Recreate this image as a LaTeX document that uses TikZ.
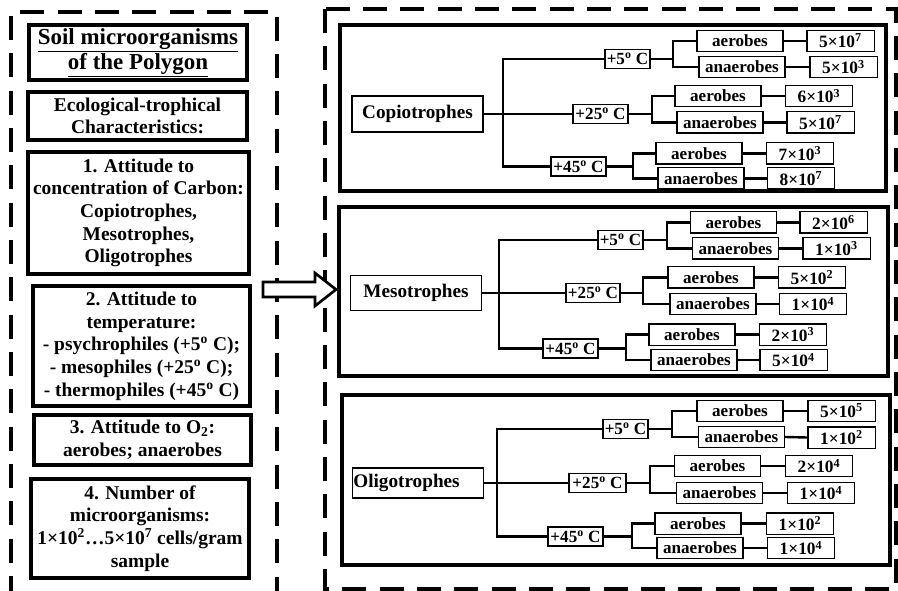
\documentclass[tikz,border=0pt]{standalone}
\usepackage{fontspec}
\setmainfont{Liberation Serif}

\tikzset{every picture/.style={line width=0.75pt}}
\tikzset{
  dashframe/.style={dash pattern=on 18pt off 10pt, line width=3pt},
  panel/.style={line width=3pt},
  infobox/.style={draw, line width=3pt, align=center, inner sep=0pt, font=\fontsize{14.6}{17}\selectfont\bfseries},
  groupbox/.style={draw, line width=1.2pt, inner sep=0pt, minimum width=98.5pt, font=\fontsize{14.4}{17}\selectfont\bfseries},
  tempbox/.style={draw, line width=1pt, inner sep=0pt, minimum height=14.25pt, font=\fontsize{12.8}{15}\selectfont\bfseries},
  oxbox/.style={draw, line width=1pt, inner sep=0pt, minimum width=64.5pt, minimum height=16pt, font=\fontsize{12.8}{15}\selectfont\bfseries},
  valbox/.style={draw, line width=1pt, inner sep=0pt, minimum width=50.5pt, minimum height=16pt, font=\fontsize{13}{15}\selectfont\bfseries},
  link/.style={line width=1.8pt},
}

\begin{document}
\begin{tikzpicture}[x=0.75pt,y=0.75pt,yscale=-1,xscale=1]
\useasboundingbox (0,0) rectangle (898,591);

%Dashed frames
\draw[dashframe] (11,600) -- (11,12) -- (277,12) -- (277,600);
\draw[dashframe] (325,9) rectangle (896,589);

% Text Node
\node[infobox, minimum width=163.5pt, minimum height=41.25pt, font=\fontsize{17.2}{18.75}\selectfont\bfseries] (title) at (138,52.5) {\underline{Soil microorganisms}\\\underline{of the Polygon}};
% Text Node
\node[infobox, minimum width=164.25pt, minimum height=36pt] (eco) at (137.5,116) {Ecological-trophical\\Characteristics:};
% Text Node
\node[infobox, minimum width=165.75pt, minimum height=91.5pt] (carbon) at (138.5,213) {1. Attitude to\\concentration of Carbon:\\Copiotrophes,\\Mesotrophes,\\Oligotrophes};
% Text Node
\node[infobox, minimum width=162.75pt, minimum height=90pt] (temp) at (141.5,346) {2. Attitude to\\temperature:\\- psychrophiles (+5\textsuperscript{o} C);\\- mesophiles (+25\textsuperscript{o} C);\\- thermophiles (+45\textsuperscript{o} C)};
% Text Node
\node[infobox, minimum width=162.75pt, minimum height=37.5pt] (oxy) at (142.5,440) {3. Attitude to O\textsubscript{2}:\\aerobes; anaerobes};
% Text Node
\node[infobox, minimum width=163.5pt, minimum height=74.25pt] (number) at (140,528.5) {4. Number of\\microorganisms:\\1×10\textsuperscript{2}…5×10\textsuperscript{7} cells/gram\\sample};

%Block arrow
\draw[line width=2pt, fill=white] (263,282) -- (315,282) -- (315,273) -- (336,289.5) -- (315,306) -- (315,297) -- (263,297) -- cycle;

%Panels
\draw[panel] (340,25) rectangle (886,191);
\draw[panel] (339,207) rectangle (888,376);
\draw[panel] (342,395) rectangle (890,565);

%%% Copiotrophes
\node[groupbox, minimum height=27pt] (copio) at (417.5,114) {Copiotrophes};
\node[tempbox, minimum width=33.75pt] (c5) at (627.5,59) {+5\textsuperscript{o} C};
\node[tempbox, minimum width=41.25pt] (c25) at (600.5,114) {+25\textsuperscript{o} C};
\node[tempbox, minimum width=41.25pt] (c45) at (578.5,166.5) {+45\textsuperscript{o} C};
\node[oxbox] (c5a) at (740,41) {aerobes};
\node[oxbox] (c5n) at (742,67) {anaerobes};
\node[valbox] (c5av) at (840.5,41) {5×10\textsuperscript{7}};
\node[valbox] (c5nv) at (843.5,67) {5×10\textsuperscript{3}};
\node[oxbox] (c25a) at (718,96) {aerobes};
\node[oxbox] (c25n) at (720,122.5) {anaerobes};
\node[valbox] (c25av) at (819,96) {6×10\textsuperscript{3}};
\node[valbox] (c25nv) at (820.5,122.5) {5×10\textsuperscript{7}};
\node[oxbox] (c45a) at (699,153.5) {aerobes};
\node[oxbox] (c45n) at (701,178.5) {anaerobes};
\node[valbox] (c45av) at (800,153.5) {7×10\textsuperscript{3}};
\node[valbox] (c45nv) at (801,178.5) {8×10\textsuperscript{7}};
%Straight Lines
\coordinate (cj) at (503,114);
\draw[link] (copio.east) -- (cj);
\draw[link] (c5.west) -| (cj) |- (c45.west);
\draw[link] (cj) -- (c25.west);
\coordinate (c5j) at (673,59);
\draw[link] (c5.east) -- (c5j);
\draw[link] (c5a.west) -| (c5j) |- (c5n.west);
\coordinate (c25j) at (652,114);
\draw[link] (c25.east) -- (c25j);
\draw[link] (c25a.west) -| (c25j) |- (c25n.west);
\coordinate (c45j) at (633,166.5);
\draw[link] (c45.east) -- (c45j);
\draw[link] (c45a.west) -| (c45j) |- (c45n.west);
\draw[link] (c5a.east) -- (c5av.west);
\draw[link] (c5n.east) -- (c5nv.west);
\draw[link] (c25a.east) -- (c25av.west);
\draw[link] (c25n.east) -- (c25nv.west);
\draw[link] (c45a.east) -- (c45av.west);
\draw[link] (c45n.east) -- (c45nv.west);

%%% Mesotrophes
\node[groupbox, minimum height=26.25pt] (meso) at (416,293) {Mesotrophes};
\node[tempbox, minimum width=33.75pt] (m5) at (620.5,240) {+5\textsuperscript{o} C};
\node[tempbox, minimum width=40.5pt] (m25) at (593,293) {+25\textsuperscript{o} C};
\node[tempbox, minimum width=41.25pt] (m45) at (570.5,348.5) {+45\textsuperscript{o} C};
\node[oxbox] (m5a) at (733.5,222.5) {aerobes};
\node[oxbox] (m5n) at (735.5,248.5) {anaerobes};
\node[valbox] (m5av) at (833.5,222.5) {2×10\textsuperscript{6}};
\node[valbox] (m5nv) at (836.5,248.5) {1×10\textsuperscript{3}};
\node[oxbox] (m25a) at (711,277.5) {aerobes};
\node[oxbox] (m25n) at (713,304) {anaerobes};
\node[valbox] (m25av) at (812,277.5) {5×10\textsuperscript{2}};
\node[valbox] (m25nv) at (813,304) {1×10\textsuperscript{4}};
\node[oxbox] (m45a) at (692,334.5) {aerobes};
\node[oxbox] (m45n) at (694,360) {anaerobes};
\node[valbox] (m45av) at (793,334.5) {2×10\textsuperscript{3}};
\node[valbox] (m45nv) at (793.5,360) {5×10\textsuperscript{4}};
%Straight Lines
\coordinate (mj) at (499,293);
\draw[link] (meso.east) -- (mj);
\draw[link] (m5.west) -| (mj) |- (m45.west);
\draw[link] (mj) -- (m25.west);
\coordinate (m5j) at (667,240);
\draw[link] (m5.east) -- (m5j);
\draw[link] (m5a.west) -| (m5j) |- (m5n.west);
\coordinate (m25j) at (643,293);
\draw[link] (m25.east) -- (m25j);
\draw[link] (m25a.west) -| (m25j) |- (m25n.west);
\coordinate (m45j) at (626,348.5);
\draw[link] (m45.east) -- (m45j);
\draw[link] (m45a.west) -| (m45j) |- (m45n.west);
\draw[link] (m5a.east) -- (m5av.west);
\draw[link] (m5n.east) -- (m5nv.west);
\draw[link] (m25a.east) -- (m25av.west);
\draw[link] (m25n.east) -- (m25nv.west);
\draw[link] (m45a.east) -- (m45av.west);
\draw[link] (m45n.east) -- (m45nv.west);

%%% Oligotrophes
\node[groupbox, minimum height=22.5pt, text width=97pt, align=left] (oligo) at (418,483) {Oligotrophes};
\node[tempbox, minimum width=33.75pt] (o5) at (625.5,429) {+5\textsuperscript{o} C};
\node[tempbox, minimum width=42.75pt] (o25) at (597.5,483) {+25\textsuperscript{o} C};
\node[tempbox, minimum width=41.25pt] (o45) at (575.5,536.5) {+45\textsuperscript{o} C};
\node[oxbox] (o5a) at (740,411) {aerobes};
\node[oxbox] (o5n) at (741.5,437) {anaerobes};
\node[valbox] (o5av) at (841.5,411) {5×10\textsuperscript{5}};
\node[valbox] (o5nv) at (841.5,437.5) {1×10\textsuperscript{2}};
\node[oxbox] (o25a) at (717.5,466) {aerobes};
\node[oxbox] (o25n) at (719.5,493) {anaerobes};
\node[valbox] (o25av) at (819,466) {2×10\textsuperscript{4}};
\node[valbox] (o25nv) at (821,493) {1×10\textsuperscript{4}};
\node[oxbox] (o45a) at (698,523.5) {aerobes};
\node[oxbox] (o45n) at (700,548) {anaerobes};
\node[valbox] (o45av) at (800,523.5) {1×10\textsuperscript{2}};
\node[valbox] (o45nv) at (801,548) {1×10\textsuperscript{4}};
%Straight Lines
\coordinate (oj) at (497,483);
\draw[link] (oligo.east) -- (oj);
\draw[link] (o5.west) -| (oj) |- (o45.west);
\draw[link] (oj) -- (o25.west);
\coordinate (o5j) at (672,429);
\draw[link] (o5.east) -- (o5j);
\draw[link] (o5a.west) -| (o5j) |- (o5n.west);
\coordinate (o25j) at (650,483);
\draw[link] (o25.east) -- (o25j);
\draw[link] (o25a.west) -| (o25j) |- (o25n.west);
\coordinate (o45j) at (632,536.5);
\draw[link] (o45.east) -- (o45j);
\draw[link] (o45a.west) -| (o45j) |- (o45n.west);
\draw[link] (o5a.east) -- (o5av.west);
\draw[link] (o5n.east) -- (o5nv.west);
\draw[link] (o25a.east) -- (o25av.west);
\draw[link] (o25n.east) -- (o25nv.west);
\draw[link] (o45a.east) -- (o45av.west);
\draw[link] (o45n.east) -- (o45nv.west);

\end{tikzpicture}
\end{document}
